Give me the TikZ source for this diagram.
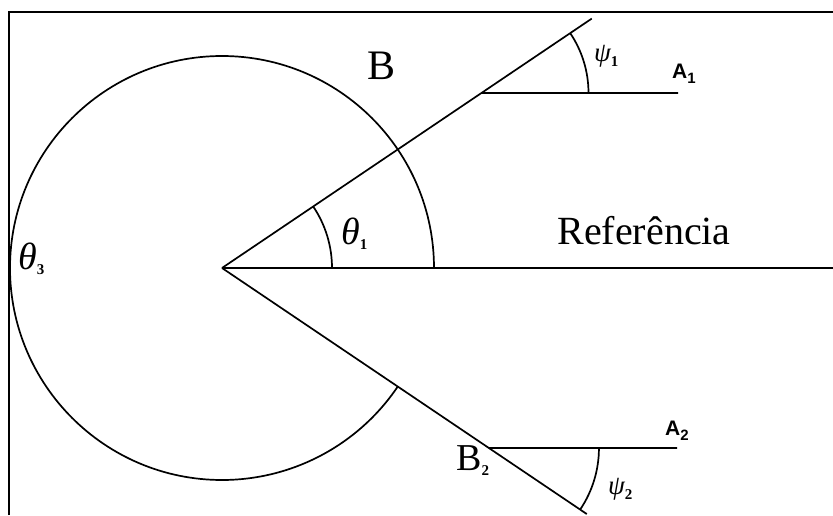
\documentclass[tikz,border=0pt]{standalone}
\usepackage{fontspec}
\setmainfont{Liberation Serif}
\newfontfamily\lsans{Liberation Sans}
\usetikzlibrary{calc}
\newcommand{\subs}[1]{\raisebox{-5pt}{\fontsize{15}{17}\selectfont\upshape\bfseries #1}}
\begin{document}
\begin{tikzpicture}[x=1pt,y=1pt,
  ln/.style={line width=1.7pt},
  framel/.style={line width=2.2pt},
  lbl/.style={inner sep=0pt, font=\fontsize{42}{48}\selectfont},
  ang/.style={inner sep=0pt, font=\fontsize{38}{44}\selectfont\itshape},
  psi/.style={inner sep=0pt, font=\fontsize{27}{30}\selectfont\itshape},
  alb/.style={inner sep=0pt, font=\fontsize{21}{24}\selectfont\lsans\bfseries}]
\useasboundingbox (0,0) rectangle (833,515);
% frame
\coordinate (BL) at (9,0);
\coordinate (TL) at (9,503);
\coordinate (TR) at (833,503);
\draw[framel] (BL) -- (TL) -- (TR);
% main points
\coordinate (O) at (222,247);
\coordinate (R) at (833,247);
\coordinate (B1) at ($(O)+(34:446)$);
\coordinate (B2) at ($(O)+(-34:440)$);
\coordinate (P1) at ($(O)+(34:313)$);
\coordinate (P2) at ($(O)+(-34:322)$);
\coordinate (A1e) at (678,422);
\coordinate (A2e) at (677,67);
% lines
\draw[ln] (O) -- (R);
\draw[ln] (O) -- (B1);
\draw[ln] (O) -- (B2);
\draw[ln] (P1) -- (A1e);
\draw[ln] (P2) -- (A2e);
% arcs
\draw[ln] ($(O)+(0:212)$) arc[start angle=0, end angle=326, radius=212];
\draw[ln] ($(O)+(0:110)$) arc[start angle=0, end angle=34, radius=110];
\draw[ln] ($(P1)+(0:107)$) arc[start angle=0, end angle=34, radius=107];
\draw[ln] ($(P2)+(0:110)$) arc[start angle=0, end angle=-34, radius=110];
% labels
\node[lbl] (lB1) at (382,449) {B};
\node[lbl, font=\fontsize{38}{44}\selectfont, anchor=west] (lB2) at (456,54) {B\subs{2}};
\node[ang, anchor=west] (lt1) at (341,281) {θ\subs{1}};
\node[ang, anchor=west] (lt3) at (18,256) {θ\subs{3}};
\node[lbl, font=\fontsize{40}{48}\selectfont, anchor=base] (lref) at (644,270) {Referência};
\node[psi, anchor=west] (lp1) at (594,459) {ψ\subs{1}};
\node[psi, anchor=west] (lp2) at (608,26) {ψ\subs{2}};
\node[alb, anchor=west] (la1) at (672,441) {A\subs{1}};
\node[alb, anchor=west] (la2) at (665,84) {A\subs{2}};
\end{tikzpicture}
\end{document}
